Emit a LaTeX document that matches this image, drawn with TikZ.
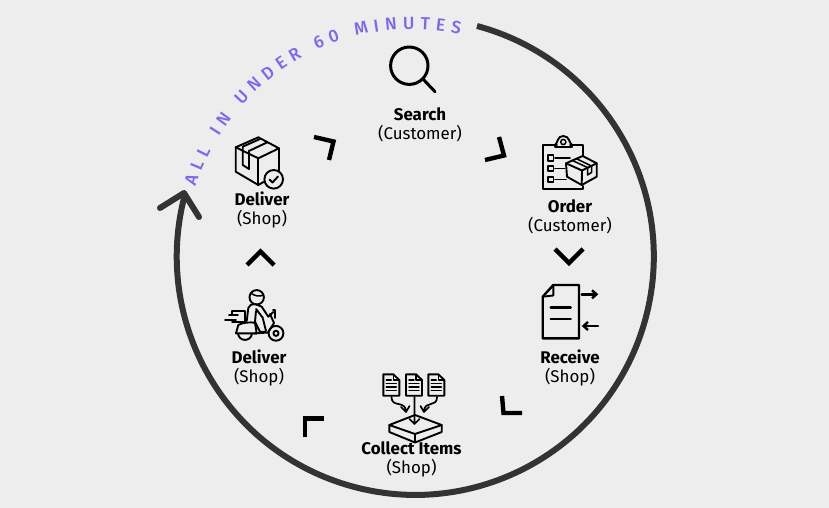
\documentclass[tikz,border=0pt]{standalone}
\usepackage{fontspec}
\setmainfont{Fira Sans}
\newfontfamily\arcfont{Fira Sans Medium}
\usetikzlibrary{decorations.text,arrows.meta}
\definecolor{bgc}{HTML}{EDEDED}
\definecolor{ringc}{HTML}{333333}
\definecolor{purp}{HTML}{7B68EE}
\tikzset{
 lbl/.style={align=center,inner sep=0pt,text=black,font=\fontsize{16.9}{19}\selectfont},
 ring/.style={draw=ringc,line width=6pt,line cap=round,line join=round},
 chev/.style={draw=black,line width=4.4pt,miter limit=10},
 ico/.style={draw=black,line width=1.9pt,line join=round,line cap=round},
 icob/.style={draw=black,line width=3pt,line join=round,line cap=round},
 smallarrow/.style={ico,line width=2.4pt,-{Straight Barb[length=4.5pt,width=8pt,line width=2.4pt]}},
}
\begin{document}
\begin{tikzpicture}[x=1pt,y=-1pt]
\useasboundingbox (0,0) rectangle (829,508);
\fill[bgc] (0,0) rectangle (829,508);
% ring
\coordinate (cc) at (415,256);
\draw[ring,line cap=butt] (477,26) arc[start angle=-75,end angle=195,x radius=238.5,y radius=238.5];
\coordinate (tip) at (184,193);
\draw[ring] (160,208) -- (tip) -- (199,217);
% curved text
\path[decorate,decoration={text along path,text align=fit to path,
 text={|\arcfont\fontsize{17.5}{20}\selectfont\color{purp}|ALL IN UNDER 60 MINUTES}}]
 (195.5,186.5) arc[start angle=198,end angle=282,x radius=228,y radius=228];
% labels
\node[lbl] (search) at (420,124.5) {\textbf{Search}\\(Customer)};
\node[lbl] (order) at (570,216.5) {\textbf{Order}\\(Customer)};
\node[lbl] (receive) at (570,367.5) {\textbf{Receive}\\(Shop)};
\node[lbl] (collect) at (411.5,459.5) {\textbf{Collect Items}\\(Shop)};
\node[lbl] (deliver) at (259,367.5) {\textbf{Deliver}\\(Shop)};
\node[lbl] (deliverb) at (262,209.5) {\textbf{Deliver}\\(Shop)};
% chevrons
\draw[chev] (314,137) -- (333.5,141.5) -- (329,160);
\draw[chev] (499,137) -- (504,155.5) -- (485,160);
\draw[chev] (555,249) -- (569,263) -- (583,249);
\draw[chev] (502,396) -- (503.5,413) -- (522,413);
\draw[chev] (305,437) -- (305,418.5) -- (324,418.5);
\draw[chev] (247,265) -- (260.5,251.5) -- (274,265);
% search icon
\draw[icob] (409.3,65.7) circle[radius=18.7];
\draw[icob] (422.7,78.7) -- (435,91.7);
% box icon
\draw[ico] (258.3,137.3) -- (235.7,147.3) -- (258.3,158.3) -- (279,148.3) -- cycle;
\draw[ico] (235.7,147.3) -- (235.7,171.7) -- (258.3,185) -- (263.5,182);
\draw[ico] (258.3,158.3) -- (258.3,185);
\draw[ico] (279,148.3) -- (279,170.5);
\draw[ico] (242.7,146.7) -- (260,139) (250,150.5) -- (267.3,142.3);
\draw[ico] (242.7,146.7) -- (242.7,165) -- (249,169) -- (249,150.5);
\draw[ico] (273.7,179.3) circle[radius=9.3];
\draw[ico] (269.5,179.5) -- (272.5,182.5) -- (278,176.5);
% order icon
\draw[ico] (557,145) -- (543.3,145) -- (543.3,189.3) -- (583.3,189.3) -- (583.3,186);
\draw[ico] (570,145) -- (583.3,145) -- (583.3,156);
\draw[ico] (555,147) -- (555,145) .. controls (558,143) and (557,136) .. (563.3,136) .. controls (569.5,136) and (569,143) .. (572,145) -- (572,147) -- cycle;
\draw[ico,line width=1.5pt] (563.3,142) circle[radius=2.6];
\foreach \yy in {158,168.5,179.5}{
 \draw[ico,line width=1.7pt] (548.3,\yy-2.7) rectangle (553.5,\yy+2.7);
}
\draw[ico] (555,158) -- (570,158) (555,168.5) -- (564.5,168.5) (555,179.5) -- (566,179.5);
\draw[ico,fill=bgc] (582.7,156) -- (566,163.3) -- (567,176.7) -- (581.7,185) -- (596.7,176.7) -- (596.7,163.3) -- cycle;
\draw[ico] (566,163.3) -- (582,170.5) -- (596.7,163.3);
\draw[ico] (582,170.5) -- (581.7,185);
\draw[ico,line width=1.5pt] (572,160.3) -- (587.5,167.5) (576,158.5) -- (591.5,166);
\draw[ico,line width=1.5pt] (587.5,167.5) -- (587.5,175) -- (591.5,172.5) -- (591.5,166);
% receive icon
\draw[ico,line width=2.4pt] (553.3,285) -- (579,285) -- (579,338.3) -- (542.7,338.3) -- (542.7,296.7) -- cycle;
\draw[ico] (553.3,285) -- (553.3,295.5) -- (542.7,296.7);
\draw[ico,line width=2.4pt] (550.7,307.3) -- (570.7,307.3) (550.7,319) -- (570.7,319);
\coordinate (ra1) at (581.7,294.3); \coordinate (ra2) at (598.3,294.3);
\coordinate (la1) at (598,326); \coordinate (la2) at (581.7,326);
\draw[smallarrow] (ra1) -- (ra2);
\draw[smallarrow] (la1) -- (la2);
% collect icon
\foreach \xx in {383.3,406,428.3}{
 \draw[ico] (\xx+10,374.3) -- (\xx,374.3) -- (\xx,395.7) -- (\xx+16,395.7) -- (\xx+16,380) -- cycle;
 \draw[ico,line width=1.2pt] (\xx+10,374.3) -- (\xx+10,380) -- (\xx+16,380);
 \draw[ico,line width=1.4pt] (\xx+3,380) -- (\xx+8,380) (\xx+3,383.5) -- (\xx+13,383.5) (\xx+3,387) -- (\xx+13,387) (\xx+3,390.5) -- (\xx+13,390.5);
}
\draw[ico] (389.3,425) -- (415,415) -- (441.7,425) -- (415,434) -- cycle;
\draw[ico] (389.3,425) -- (389.3,432) -- (415,442.5) -- (441.7,432) -- (441.7,425);
\draw[ico] (415,434) -- (415,442.5);
\coordinate (c1) at (414.5,397); \coordinate (c2) at (414.5,424);
\draw[ico,line width=1.7pt] (c1) -- (c2) (409.5,419) -- (414.5,424) -- (419.5,419);
\draw[ico,line width=1.7pt] (391.5,397) .. controls (391.5,408) and (405,400) .. (406,411) (401,407) -- (406,412) -- (409.5,406);
\draw[ico,line width=1.7pt] (437,397) .. controls (437,408) and (425,400) .. (424,411) (420.5,406) -- (424,412) -- (429,407);
% scooter icon
\draw[ico] (256.7,297.3) circle[radius=7.2];
\draw[ico,line width=1.5pt] (250.5,293) .. controls (255,296) and (259,297) .. (263.5,295);
\draw[ico] (246.7,321) -- (248.3,308) .. controls (249,305) and (252,304) .. (255,304) -- (261.7,306.7) -- (268.3,316.7) -- (273.3,312);
\draw[ico] (256,309) -- (263,318);
\draw[ico] (256,311) -- (255,321.7) -- (260,331.7) -- (265,331.7);
\draw[ico] (263,319) -- (266,331);
\draw[ico] (273,310) -- (275,310) -- (275,318);
\draw[ico] (270,314) -- (274,323) -- (268,332.5) -- (254,333.5);
\draw[ico] (276,333.3) circle[radius=7.4];
\draw[ico] (276,333.3) circle[radius=2.6];
\draw[ico] (238,333.5) .. controls (239,342) and (251,342) .. (252,333.5);
\draw[ico] (236,333.3) -- (238.3,325) .. controls (242,322.5) and (250,322) .. (255,322.7) -- (256.7,333.3) -- cycle;
\draw[ico] (231.7,315) -- (231.7,310.7) -- (245,310.7) -- (245,321.7) -- (232,321.7);
\draw[ico] (225,320) -- (236,320) (229,315) -- (238,315);
\end{tikzpicture}
\end{document}
